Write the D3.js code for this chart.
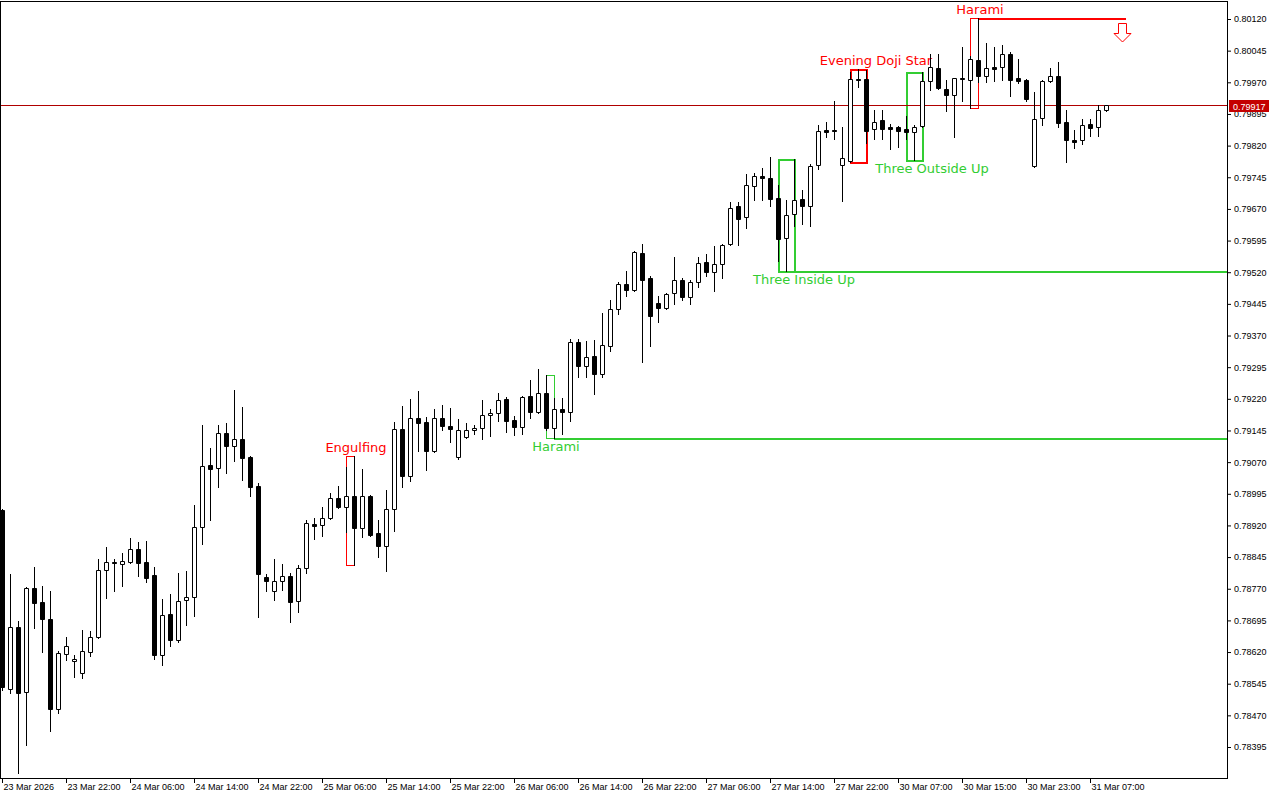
<!DOCTYPE html>
<html>
<head>
<meta charset="utf-8">
<script src="https://cdnjs.cloudflare.com/ajax/libs/d3/7.8.5/d3.min.js"></script>
<style>
body{margin:0;background:#fff;}
svg{display:block;}
.axis text{font-family:"Liberation Sans",Arial,sans-serif;font-size:9px;fill:#000;}
.axis line{stroke:#000;}
.axis path{display:none;}
.pattern text{font-family:"DejaVu Sans",sans-serif;font-size:13px;}
</style>
</head>
<body>
<div id="canvas" class="canvas"></div>
<script>
// EURGBP-ish H1 candles
var opens = [
0.78957,0.78532,0.78679,0.78525,0.78772,0.78739,0.78698,0.78485,0.78615,0.78599,
0.78570,0.78620,0.78656,0.78814,0.78833,0.78829,0.78833,0.78864,0.78833,0.78803,
0.78613,0.78710,0.78649,0.78743,0.78750,0.78916,0.79063,0.79056,0.79139,0.79108,
0.79125,0.79082,0.79013,0.78798,0.78765,0.78788,0.78800,0.78741,0.78819,0.78923,
0.78921,0.78938,0.78985,0.78964,0.78990,0.78914,0.78990,0.78902,0.78871,0.78959,
0.79149,0.79037,0.79175,0.79165,0.79096,0.79175,0.79156,0.79082,0.79130,0.79146,
0.79151,0.79182,0.79186,0.79220,0.79170,0.79153,0.79227,0.79189,0.79234,0.79151,
0.79196,0.79189,0.79355,0.79298,0.79322,0.79279,0.79345,0.79433,0.79492,0.79478,
0.79566,0.79506,0.79447,0.79435,0.79471,0.79502,0.79461,0.79497,0.79544,0.79521,
0.79540,0.79587,0.79677,0.79651,0.79724,0.79748,0.79743,0.79696,0.79601,0.79658,
0.79694,0.79677,0.79774,0.79857,0.79857,0.79774,0.79784,0.79978,0.79977,0.79859,
0.79881,0.79864,0.79864,0.79859,0.79852,0.79866,0.79973,0.80004,0.79954,0.79940,
0.79980,0.79975,0.80023,0.79985,0.80006,0.80006,0.80037,0.79980,0.79975,0.79772,
0.79885,0.79973,0.79985,0.79876,0.79833,0.79833,0.79871,0.79864,0.79904];

var highs = [
0.78960,0.78805,0.78694,0.78774,0.78822,0.78776,0.78765,0.78622,0.78656,0.78613,
0.78672,0.78670,0.78841,0.78869,0.78841,0.78855,0.78890,0.78881,0.78883,0.78822,
0.78746,0.78758,0.78807,0.78812,0.78968,0.79158,0.79104,0.79158,0.79163,0.79241,
0.79201,0.79084,0.79021,0.78805,0.78841,0.78829,0.78807,0.78826,0.78933,0.78938,
0.78964,0.78997,0.79013,0.79058,0.79085,0.79054,0.78992,0.78933,0.79004,0.79165,
0.79203,0.79220,0.79239,0.79177,0.79196,0.79205,0.79198,0.79172,0.79163,0.79158,
0.79217,0.79196,0.79234,0.79224,0.79179,0.79226,0.79265,0.79291,0.79276,0.79222,
0.79222,0.79362,0.79362,0.79357,0.79359,0.79423,0.79454,0.79497,0.79523,0.79570,
0.79587,0.79511,0.79464,0.79471,0.79556,0.79506,0.79502,0.79556,0.79563,0.79582,
0.79587,0.79686,0.79686,0.79753,0.79755,0.79767,0.79793,0.79727,0.79691,0.79788,
0.79715,0.79776,0.79869,0.79876,0.79926,0.79864,0.79994,0.80001,0.79999,0.79904,
0.79904,0.79871,0.79866,0.79890,0.79869,0.79994,0.80037,0.80037,0.79975,0.79981,
0.80054,0.80032,0.80122,0.80063,0.80054,0.80058,0.80042,0.80025,0.79978,0.79947,
0.79975,0.80004,0.80018,0.79904,0.79857,0.79883,0.79883,0.79916,0.79917];

var lows = [
0.78530,0.78523,0.78333,0.78400,0.78677,0.78620,0.78433,0.78476,0.78601,0.78561,
0.78558,0.78611,0.78653,0.78748,0.78765,0.78776,0.78831,0.78800,0.78786,0.78603,
0.78589,0.78634,0.78644,0.78684,0.78705,0.78876,0.78933,0.79011,0.79044,0.79073,
0.79028,0.78990,0.78703,0.78765,0.78743,0.78767,0.78691,0.78715,0.78807,0.78888,
0.78895,0.78936,0.78962,0.78904,0.78826,0.78893,0.78895,0.78845,0.78812,0.78907,
0.79011,0.79025,0.79096,0.79051,0.79094,0.79146,0.79118,0.79077,0.79128,0.79137,
0.79125,0.79132,0.79167,0.79141,0.79134,0.79137,0.79175,0.79186,0.79146,0.79127,
0.79137,0.79167,0.79272,0.79272,0.79231,0.79272,0.79333,0.79421,0.79464,0.79475,
0.79307,0.79345,0.79402,0.79433,0.79445,0.79454,0.79445,0.79485,0.79511,0.79475,
0.79506,0.79585,0.79585,0.79625,0.79691,0.79691,0.79677,0.79547,0.79522,0.79630,
0.79634,0.79630,0.79765,0.79840,0.79836,0.79689,0.79782,0.79959,0.79826,0.79836,
0.79836,0.79812,0.79817,0.79836,0.79786,0.79864,0.79952,0.79954,0.79902,0.79840,
0.79926,0.79909,0.79971,0.79971,0.79973,0.79975,0.79938,0.79968,0.79926,0.79770,
0.79869,0.79971,0.79864,0.79781,0.79814,0.79824,0.79843,0.79843,0.79903];

var closes = [
0.78537,0.78679,0.78523,0.78772,0.78736,0.78698,0.78485,0.78618,0.78634,0.78603,
0.78622,0.78656,0.78814,0.78833,0.78831,0.78836,0.78864,0.78831,0.78795,0.78613,
0.78708,0.78649,0.78741,0.78750,0.78916,0.79061,0.79054,0.79139,0.79108,0.79125,
0.79080,0.79011,0.78805,0.78788,0.78788,0.78800,0.78739,0.78819,0.78926,0.78919,
0.78938,0.78985,0.78964,0.78990,0.78914,0.78990,0.78897,0.78871,0.78959,0.79149,
0.79037,0.79175,0.79163,0.79096,0.79175,0.79156,0.79149,0.79146,0.79146,0.79151,
0.79182,0.79186,0.79217,0.79167,0.79153,0.79224,0.79189,0.79234,0.79151,0.79196,
0.79189,0.79355,0.79298,0.79319,0.79279,0.79348,0.79433,0.79492,0.79478,0.79568,
0.79502,0.79416,0.79435,0.79468,0.79502,0.79461,0.79497,0.79542,0.79521,0.79540,
0.79585,0.79672,0.79646,0.79727,0.79748,0.79743,0.79694,0.79599,0.79656,0.79691,
0.79677,0.79772,0.79855,0.79852,0.79855,0.79791,0.79978,0.79975,0.79855,0.79876,
0.79859,0.79859,0.79855,0.79852,0.79864,0.79973,0.80006,0.79956,0.79940,0.79980,
0.79979,0.80025,0.79985,0.80004,0.80002,0.80037,0.79975,0.79973,0.79930,0.79883,
0.79973,0.79985,0.79874,0.79833,0.79829,0.79869,0.79862,0.79904,0.79917];

// time axis: one label every 8 bars
var tickBars = [0,8,16,24,32,40,48,56,64,72,80,88,96,104,112,120,128,136];
var tickLabels = ['23 Mar 2026','23 Mar 22:00','24 Mar 06:00','24 Mar 14:00','24 Mar 22:00',
    '25 Mar 06:00','25 Mar 14:00','25 Mar 22:00','26 Mar 06:00','26 Mar 14:00','26 Mar 22:00',
    '27 Mar 06:00','27 Mar 14:00','27 Mar 22:00','30 Mar 07:00','30 Mar 15:00','30 Mar 23:00',
    '31 Mar 07:00'];

var priceTicks = [0.78395,0.78470,0.78545,0.78620,0.78695,0.78770,0.78845,0.78920,0.78995,
    0.79070,0.79145,0.79220,0.79295,0.79370,0.79445,0.79520,0.79595,0.79670,0.79745,
    0.79820,0.79895,0.79970,0.80045,0.80120];

var lastPrice = 0.79917;

// candlestick patterns found by the indicator
var patternNames = ['Engulfing','Harami','Three Inside Up','Evening Doji Star','Three Outside Up','Harami'];
var patternStart = [43,68,97,106,113,121];
var patternEnd   = [44,69,99,108,115,122];
var patternBull  = [false,true,true,false,true,false];
// patterns whose level is still extended to the right
var levelPatterns = [1,2,5];
var arrowBar = 140;

//plot frame + price scale on the right
var outerWidth = 1280, outerHeight = 800;
var frame = {l:0,t:1,r:1227,b:778};

var svg = d3.select('.canvas')
    .append('svg')
    .attr('width',outerWidth)
    .attr('height',outerHeight);

var scaleX = d3.scaleLinear()
    .domain([0,153.125])
    .range([2,1227]);
var scaleY = d3.scaleLinear()
    .domain([0.78395,0.80120])
    .range([747,19]);

svg.append('clipPath')
    .attr('id','clip')
    .append('rect')
    .attr('x',1).attr('y',2)
    .attr('width',frame.r-1).attr('height',frame.b-2);

var plot = svg.append('g').attr('clip-path','url(#clip)');

function px(i){ return Math.round(scaleX(i)); }
function py(v){ return Math.round(scaleY(v)); }

function patHigh(k){ return d3.max(highs.slice(patternStart[k],patternEnd[k]+1)); }
function patLow(k){ return d3.min(lows.slice(patternStart[k],patternEnd[k]+1)); }
function patColor(k){ return patternBull[k] ? '#32cd32' : '#ff0000'; }
function patWidth(k){ return (patternEnd[k]-patternStart[k]+1)>=3 ? 2 : 1; }
function patOff(k){ return patWidth(k)===2 ? 1 : 0.5; }

//pattern boxes sit under the candles
var pats = plot.selectAll('.pattern')
    .data(d3.range(patternNames.length))
    .enter()
    .append('g')
    .attr('class','pattern');

pats.append('rect')
    .attr('x',function(k){return px(patternStart[k])+patOff(k)})
    .attr('y',function(k){return py(patHigh(k))+patOff(k)})
    .attr('width',function(k){return px(patternEnd[k])-px(patternStart[k])})
    .attr('height',function(k){return py(patLow(k))-py(patHigh(k))})
    .attr('fill','none')
    .attr('stroke',patColor)
    .attr('stroke-width',patWidth);

pats.append('text')
    .text(function(k){return patternNames[k]})
    .attr('x',function(k){
        var n = patternEnd[k]-patternStart[k]+1;
        return (px(patternStart[k])+px(patternEnd[k]))/2 + 12*(n-1) - 6;
    })
    .attr('y',function(k){
        return patternBull[k] ? py(patLow(k))+13 : py(patHigh(k))-4;
    })
    .attr('text-anchor','middle')
    .attr('fill',patColor);

//levels to the right
plot.selectAll('.level')
    .data(levelPatterns)
    .enter()
    .append('line')
    .attr('class','level')
    .attr('x1',function(k){return px(patternEnd[k])})
    .attr('x2',function(k){return patternBull[k] ? frame.r : px(arrowBar+0.5)})
    .attr('y1',function(k){return (patternBull[k]?py(patLow(k)):py(patHigh(k)))+1})
    .attr('y2',function(k){return (patternBull[k]?py(patLow(k)):py(patHigh(k)))+1})
    .attr('stroke',patColor)
    .attr('stroke-width',2);

//last price line
plot.append('line')
    .attr('x1',0).attr('x2',frame.r)
    .attr('y1',py(lastPrice)+0.5).attr('y2',py(lastPrice)+0.5)
    .attr('stroke','#b00000')
    .attr('stroke-width',1);

//candles
var candles = plot.selectAll('.candle')
    .data(d3.range(opens.length))
    .enter()
    .append('g')
    .attr('class','candle');

candles.append('line')
    .attr('x1',function(i){return px(i)+0.5})
    .attr('x2',function(i){return px(i)+0.5})
    .attr('y1',function(i){return py(highs[i])})
    .attr('y2',function(i){return py(lows[i])+1})
    .attr('stroke','#000')
    .attr('stroke-width',1);

candles.append('path')
    .attr('d',function(i){
        var top = py(Math.max(opens[i],closes[i])),
            bot = py(Math.min(opens[i],closes[i]));
        var x0 = px(i)-1.5;
        return 'M'+x0+','+(top+0.5)+'h4V'+(bot+0.5)+'h-4Z';
    })
    .attr('fill',function(i){return closes[i]>=opens[i]?'#fff':'#000'})
    .attr('stroke','#000')
    .attr('stroke-width',1);

//sell arrow
var ax = px(arrowBar)+0.5, ay = py(patHigh(5))+5.5;
plot.append('path')
    .attr('d','M'+(ax-4)+','+ay+'h8v10h4.5l-8.5,8.5l-8.5,-8.5h4.5z')
    .attr('fill','#fff')
    .attr('stroke','#ff0000')
    .attr('stroke-width',1);

//axes
var axisX = d3.axisBottom(scaleX)
    .tickValues(tickBars)
    .tickFormat(function(d,i){return tickLabels[i]})
    .tickSize(5);
svg.append('g')
    .attr('class','axis axis-x')
    .attr('transform','translate(0,'+frame.b+')')
    .call(axisX)
    .selectAll('text')
    .attr('text-anchor','start')
    .attr('x',1)
    .attr('y',6);

var axisY = d3.axisRight(scaleY)
    .tickValues(priceTicks)
    .tickFormat(d3.format('.5f'))
    .tickSize(4);
svg.append('g')
    .attr('class','axis axis-y')
    .attr('transform','translate('+frame.r+',0)')
    .call(axisY)
    .selectAll('text')
    .attr('x',7);

//frame
svg.append('rect')
    .attr('x',0.5).attr('y',1.5)
    .attr('width',frame.r).attr('height',frame.b-1)
    .attr('fill','none')
    .attr('stroke','#000');

//price tag (covers the neighbouring scale label, like the terminal does)
var tag = svg.append('g').attr('transform','translate(1229,'+(py(lastPrice)-5)+')');
tag.append('rect')
    .attr('width',40).attr('height',12)
    .attr('fill','#c40000');
tag.append('text')
    .attr('x',4).attr('y',9.5)
    .attr('fill','#fff')
    .style('font-family','"Liberation Sans",Arial,sans-serif')
    .style('font-size','9px')
    .text(d3.format('.5f')(lastPrice));
</script>
</body>
</html>
